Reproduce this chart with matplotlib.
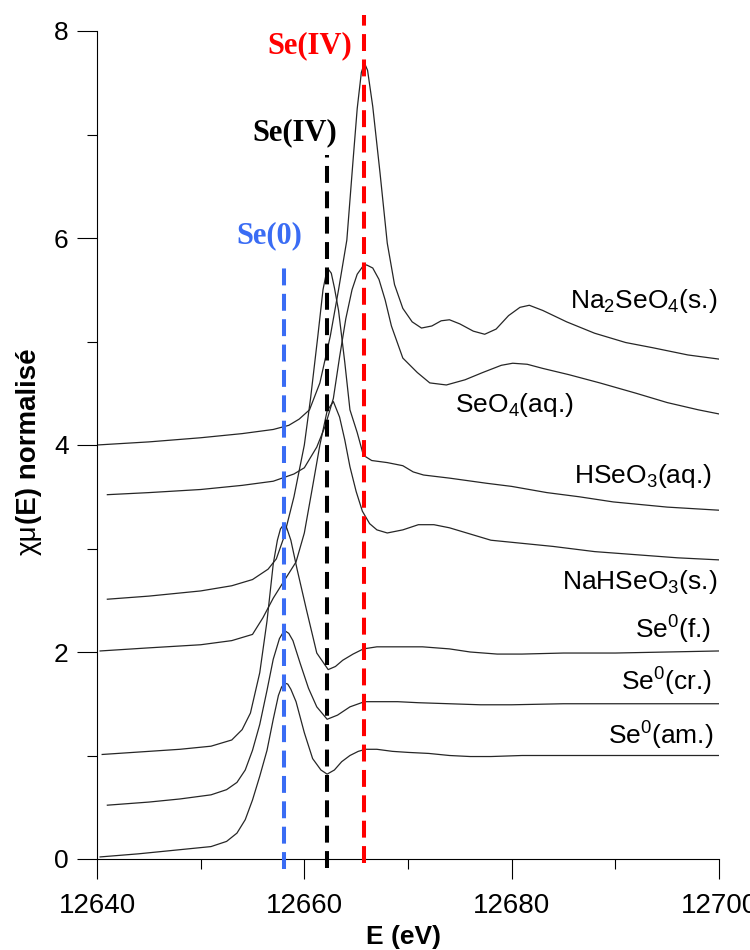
import matplotlib
matplotlib.use("Agg")
import matplotlib.pyplot as plt
from matplotlib.ticker import MultipleLocator

plt.rcParams['font.family'] = ['Liberation Sans', 'DejaVu Sans']
plt.rcParams['mathtext.fontset'] = 'custom'
plt.rcParams['mathtext.rm'] = 'Liberation Sans'
plt.rcParams['mathtext.it'] = 'Liberation Sans:italic'
plt.rcParams['mathtext.bf'] = 'Liberation Sans:bold'

# ---------------- data ----------------
se0_am_E = [12640.3, 12644, 12648, 12651, 12652.5, 12653.5, 12654.3, 12655, 12655.7, 12656.4,
            12657, 12657.5, 12657.8, 12658.1, 12658.4, 12658.7, 12659.2, 12660, 12660.8, 12661.6,
            12662.2, 12662.9, 12663.6, 12664.4, 12665.2, 12665.9, 12667, 12668.5, 12670, 12672,
            12674, 12676, 12678, 12681, 12685, 12690, 12695, 12700]
se0_am_v = [0.02, 0.05, 0.09, 0.12, 0.17, 0.25, 0.38, 0.57, 0.8, 1.05,
            1.35, 1.58, 1.66, 1.70, 1.69, 1.64, 1.52, 1.22, 0.97, 0.86,
            0.82, 0.86, 0.94, 1.0, 1.04, 1.06, 1.06, 1.04, 1.03, 1.02,
            1.0, 0.99, 0.99, 1.0, 1.0, 1.0, 1.0, 1.0]

se0_cr_E = [12641, 12645, 12648, 12651, 12652.5, 12653.5, 12654.3, 12655, 12655.7, 12656.4,
            12657, 12657.6, 12657.9, 12658.2, 12658.5, 12658.9, 12659.6, 12660.4, 12661.2, 12662.2,
            12663.2, 12664.4, 12665.8, 12667, 12669, 12671, 12674, 12677, 12680, 12685,
            12690, 12695, 12700]
se0_cr_v = [0.52, 0.55, 0.58, 0.62, 0.67, 0.74, 0.86, 1.05, 1.3, 1.63,
            1.93, 2.13, 2.18, 2.2, 2.18, 2.11, 1.89, 1.65, 1.47, 1.35,
            1.39, 1.47, 1.52, 1.52, 1.52, 1.51, 1.5, 1.49, 1.49, 1.5,
            1.5, 1.5, 1.5]

se0_f_E = [12640.5, 12645, 12648, 12651, 12653, 12654, 12654.8, 12655.7, 12656.4, 12657,
           12657.4, 12657.7, 12658, 12658.3, 12658.7, 12659.3, 12660.2, 12661.2, 12662.3, 12663.0,
           12663.7, 12664.7, 12665.7, 12667, 12669, 12671.4, 12674, 12676, 12678.6, 12681,
           12685, 12690, 12695, 12700]
se0_f_v = [1.01, 1.04, 1.06, 1.09, 1.15, 1.25, 1.41, 1.8, 2.3, 2.85,
           3.08, 3.19, 3.23, 3.2, 3.08, 2.8, 2.41, 1.99, 1.83, 1.86,
           1.92, 1.98, 2.03, 2.05, 2.05, 2.05, 2.03, 2.0, 1.98, 1.98,
           1.99, 1.99, 2.0, 2.01]

nahseo3_E = [12640.3, 12645, 12650, 12653, 12655, 12656, 12657, 12658, 12659.2, 12660,
             12660.8, 12661.5, 12662.2, 12662.8, 12663.4, 12663.9, 12664.4, 12665, 12665.6, 12666.3,
             12667, 12668, 12669.5, 12671, 12672.5, 12674, 12676, 12678, 12681, 12684,
             12688, 12692, 12696, 12700]
nahseo3_v = [2.01, 2.04, 2.07, 2.11, 2.17, 2.33, 2.52, 2.68, 2.87, 3.15,
             3.6, 4.0, 4.33, 4.42, 4.27, 4.05, 3.79, 3.55, 3.36, 3.24,
             3.18, 3.15, 3.18, 3.23, 3.23, 3.2, 3.14, 3.08, 3.05, 3.02,
             2.97, 2.94, 2.91, 2.89]

hseo3_E = [12641, 12645, 12650, 12653, 12655, 12656.5, 12657.3, 12658, 12659, 12660,
           12660.6, 12661.3, 12661.8, 12662.1, 12662.3, 12662.6, 12662.9, 12663.3, 12663.9, 12664.4,
           12665.1, 12665.7, 12666.5, 12668, 12669.5, 12670.5, 12671.5, 12674, 12677.6, 12680,
           12683.4, 12686.5, 12689.8, 12695, 12700]
hseo3_v = [2.51, 2.54, 2.59, 2.64, 2.7, 2.8, 2.9, 3.1, 3.5, 4.0,
           4.45, 5.05, 5.5, 5.65, 5.7, 5.66, 5.52, 5.3, 4.8, 4.34,
           4.12, 3.9, 3.85, 3.83, 3.8, 3.74, 3.71, 3.68, 3.63, 3.6,
           3.54, 3.5, 3.45, 3.4, 3.37]

seo4_E = [12641, 12645, 12650, 12654, 12657, 12659, 12660, 12661.2, 12662, 12662.8,
          12663.4, 12664, 12664.6, 12665.1, 12665.6, 12666, 12666.6, 12667.2, 12667.8, 12668.4,
          12669.5, 12670.9, 12672.1, 12673.7, 12675.5, 12677.2, 12679, 12680.1, 12681.5, 12683,
          12685.5, 12688.5, 12692, 12695, 12698, 12700]
seo4_v = [3.52, 3.54, 3.57, 3.61, 3.65, 3.72, 3.78, 3.98, 4.18, 4.45,
          4.85, 5.22, 5.5, 5.65, 5.72, 5.74, 5.71, 5.6, 5.4, 5.15,
          4.84, 4.7, 4.6, 4.58, 4.63, 4.7, 4.77, 4.79, 4.78, 4.74,
          4.68, 4.6, 4.5, 4.41, 4.34, 4.3]

na2seo4_E = [12640, 12645, 12650, 12654, 12657, 12658.5, 12659.5, 12660.5, 12661.5, 12662.5,
             12663.3, 12664.1, 12664.7, 12665.1, 12665.5, 12665.8, 12666.1, 12666.6, 12667.3, 12668,
             12668.7, 12669.5, 12670.4, 12671.3, 12672.3, 12673.2, 12674, 12675, 12676.3, 12677.4,
             12678.5, 12679.7, 12680.8, 12681.7, 12683, 12685.3, 12688, 12691, 12693.6, 12697, 12700]
na2seo4_v = [4.0, 4.03, 4.07, 4.11, 4.15, 4.19, 4.25, 4.34, 4.6, 5.05,
             5.5, 5.98, 6.75, 7.25, 7.6, 7.69, 7.62, 7.27, 6.63, 5.95,
             5.55, 5.32, 5.19, 5.13, 5.15, 5.2, 5.21, 5.17, 5.1, 5.07,
             5.12, 5.25, 5.33, 5.35, 5.3, 5.19, 5.08, 4.99, 4.94, 4.87, 4.83]

curves = [(se0_am_E, se0_am_v), (se0_cr_E, se0_cr_v), (se0_f_E, se0_f_v),
          (nahseo3_E, nahseo3_v), (hseo3_E, hseo3_v), (seo4_E, seo4_v),
          (na2seo4_E, na2seo4_v)]

curve_labels = ['Se$^0$(am.)', 'Se$^0$(cr.)', 'Se$^0$(f.)', 'NaHSeO$_3$(s.)',
                'HSeO$_3$(aq.)', 'SeO$_4$(aq.)', 'Na$_2$SeO$_4$(s.)']
label_E = [12699.5, 12699.3, 12699.2, 12699.8, 12699.3, 12674.5, 12699.9]
label_v = [1.11, 1.63, 2.13, 2.61, 3.63, 4.32, 5.32]
label_ha = ['right', 'right', 'right', 'right', 'right', 'left', 'right']

ref_E = [12658.0, 12662.2, 12665.8]
ref_top = [5.72, 6.8, 8.15]
ref_bottom = [-0.1, -0.09, -0.04]
ref_colors = ['#3a6cf4', '#000000', '#ff0000']
ref_names = ['Se(0)', 'Se(IV)', 'Se(IV)']
ref_text_E = [12656.6, 12659.1, 12660.5]
ref_text_v = [6.02, 7.02, 7.86]

x_major = [12640, 12660, 12680, 12700]
y_major = [0, 2, 4, 6, 8]

# ---------------- figure ----------------
fig = plt.figure(figsize=(7.5, 9.5), dpi=100)
ax = fig.add_axes([97/750, 91/950, 622/750, 828/950])

for E, v in curves:
    ax.plot(E, v, color='#262626', lw=0.9, solid_joinstyle='round')

for E, top, bot, c in zip(ref_E, ref_top, ref_bottom, ref_colors):
    ax.plot([E, E], [bot, top], color=c, lw=2.9, dashes=(4.2, 2.1), clip_on=False, zorder=3)

for name, E, v, c in zip(ref_names, ref_text_E, ref_text_v, ref_colors):
    ax.text(E, v, name, color=c, ha='center', va='center', fontsize=22,
            fontweight='bold', family='Liberation Serif')

for lab, E, v, ha in zip(curve_labels, label_E, label_v, label_ha):
    ax.text(E, v, lab, ha=ha, va='baseline', fontsize=19, color='black')

ax.set_xlim(12640, 12700)
ax.set_ylim(0, 8)
ax.set_xticks(x_major)
ax.set_yticks(y_major)
ax.xaxis.set_minor_locator(MultipleLocator(10))
ax.yaxis.set_minor_locator(MultipleLocator(1))
ax.tick_params(which='major', direction='out', length=14.4, width=0.8)
ax.tick_params(which='minor', direction='out', length=7.2, width=0.8)
ax.tick_params(axis='x', which='major', labelsize=20, pad=10)
ax.tick_params(axis='y', which='major', labelsize=19, pad=6)
for s in ['top', 'right']:
    ax.spines[s].set_visible(False)
for s in ['left', 'bottom']:
    ax.spines[s].set_linewidth(0.8)

fig.text(404/750, 6/950, 'E (eV)', ha='center', va='baseline', fontsize=19, fontweight='bold')
# y-axis label: thin Greek part below, bold part above (rotated)
fig.text(29/750, (950 - 524)/950, '(E) normalisé', rotation=90, ha='center',
         va='bottom', fontsize=20, fontweight='bold')
fig.text(29/750, (950 - 524)/950, 'χμ', rotation=90, ha='center',
         va='top', fontsize=20, fontweight='normal')

fig.savefig('out.png', dpi=100)
